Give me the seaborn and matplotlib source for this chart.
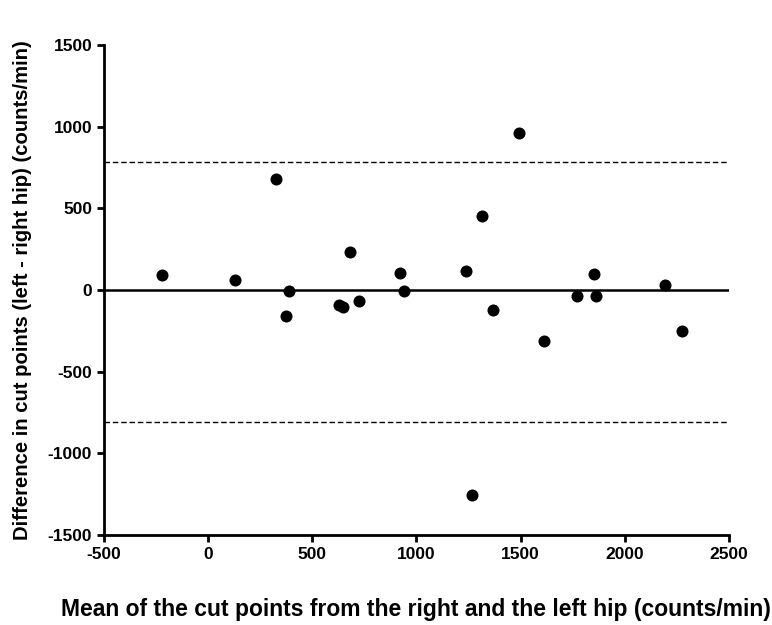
import matplotlib
matplotlib.use("Agg")
import matplotlib.pyplot as plt
import seaborn as sns
import pandas as pd

# --- data ---
mean_cut = [-223, 130, 325, 373, 389, 627, 646, 683, 724, 920, 939,
            1239, 1269, 1314, 1369, 1492, 1611, 1769, 1853, 1862, 2194, 2274]
diff_cut = [94, 61, 681, -162, -9, -94, -102, 233, -70, 106, -9,
            114, -1254, 451, -125, 959, -310, -37, 98, -37, 33, -250]
bias = 0
upper_loa = 783
lower_loa = -810

df = pd.DataFrame({"mean": mean_cut, "diff": diff_cut})

sns.set_style("ticks")
plt.rcParams["font.family"] = ["Liberation Sans", "DejaVu Sans"]
plt.rcParams["axes.unicode_minus"] = False
plt.rcParams["text.color"] = "black"
plt.rcParams["axes.labelcolor"] = "black"

fig = plt.figure(figsize=(7.72, 6.25), dpi=100)
ax = fig.add_axes([0.1347, 0.144, 0.8093, 0.784])

sns.scatterplot(data=df, x="mean", y="diff", ax=ax, color="black",
                s=75, edgecolor="black", linewidth=0, zorder=3)

ax.axhline(bias, color="black", lw=1.8, zorder=2)
ax.axhline(upper_loa, color="black", lw=1, ls=(0, (4, 2)), zorder=2)
ax.axhline(lower_loa, color="black", lw=1, ls=(0, (4, 2)), zorder=2)

ax.set_xlim(-500, 2500)
ax.set_ylim(-1500, 1500)
ax.set_xticks(range(-500, 2501, 500))
ax.set_yticks(range(-1500, 1501, 500))

for side in ["top", "right"]:
    ax.spines[side].set_visible(False)
for side in ["left", "bottom"]:
    ax.spines[side].set_linewidth(2)
    ax.spines[side].set_color("black")

ax.tick_params(width=2, length=5, colors="black", labelcolor="black", labelsize=12.5)
for lab in ax.get_xticklabels() + ax.get_yticklabels():
    lab.set_fontweight("bold")

ax.set_xlabel("Mean of the cut points from the right and the left hip (counts/min)",
              fontsize=16.5, fontweight="bold", labelpad=26, color="black")
ax.set_ylabel("Difference in cut points (left - right hip) (counts/min)",
              fontsize=14.6, fontweight="bold", labelpad=11, color="black")

fig.savefig("out.png", dpi=100)
